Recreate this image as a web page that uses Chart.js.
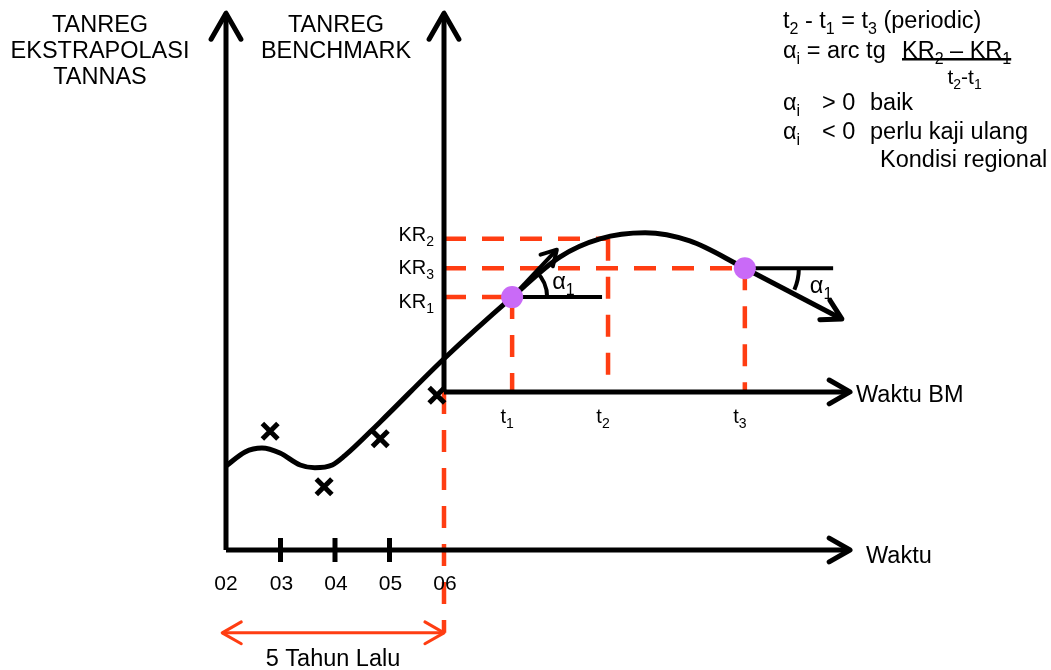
<!DOCTYPE html>
<html>
<head>
<meta charset="utf-8">
<script src="https://cdn.jsdelivr.net/npm/chart.js@4.4.0/dist/chart.umd.min.js"></script>
<style>
  html, body { margin: 0; padding: 0; background: #fff; }
  #wrap { width: 1051px; height: 670px; }
</style>
</head>
<body>
<div id="wrap"><canvas id="diagram" width="1051" height="670"></canvas></div>
<script>
// x in years (02 = 2), y in index units; both
const yearLabels = ['02', '03', '04', '05', '06'];
const yearValues = [2, 3, 4, 5, 6];
const tickYears = [3, 4, 5];

const tLabels = ['t_1', 't_2', 't_3'];
const tValues = [7.25, 9.01, 11.52];

const krLabels = ['KR_1', 'KR_2', 'KR_3'];
const krValues = [4.64, 5.71, 5.17];

// benchmark axes start where year 06 sits
const bmOrigin = [6, 2.9];
const axisTop = 9.85;
const axisEnd = 13.45;
const pastSpanY = -1.52;

// extrapolated TANNAS path then the benchmark path
const curveX = [2.00, 2.35, 2.66, 2.99, 3.36, 3.63, 3.95, 4.18, 4.83, 6.00, 7.25, 8.13, 8.86, 9.69, 10.51, 11.52];
const curveY = [1.54, 1.80, 1.87, 1.78, 1.56, 1.51, 1.56, 1.73, 2.35, 3.51, 4.64, 5.38, 5.71, 5.82, 5.67, 5.17];
const trendEnd = [13.30, 4.24];

// yearly observations (x marks)
const obsX = [2.81, 3.80, 4.83, 5.87];
const obsY = [2.18, 1.16, 2.04, 2.84];

// tangent at t1 and the flat reference lines for alpha
const tangentEnd = [8.07, 5.51];
const flatEnd1 = 8.90;
const flatEnd3 = 13.14;

const FONT = '"Liberation Sans", Arial, Helvetica, sans-serif';
const RED = '#ff3d12';
const PURPLE = '#c96af7';

const pt = (x, y) => ({ x, y });
const seg = (a, b) => [pt(a[0], a[1]), pt(b[0], b[1])];

function blackLine(data, width, extra) {
    return Object.assign({ data, showLine: true, borderColor: '#000', borderWidth: width, pointRadius: 0, clip: false, order: 5, borderCapStyle: 'butt' }, extra || {});
}
function redDash(data, extra) {
    return Object.assign({ data, showLine: true, borderColor: RED, borderWidth: 4.5, borderDash: [22, 16], pointRadius: 0, clip: false, order: 8 }, extra || {});
}

const datasets = [
    { key: 'dots', data: [pt(tValues[0], krValues[0]), pt(tValues[2], krValues[2])], showLine: false, pointRadius: 11, backgroundColor: PURPLE, borderWidth: 0, order: 0, clip: false },
    { data: obsX.map((x, i) => pt(x, obsY[i])), showLine: false, pointStyle: 'crossRot', pointRadius: 11, borderColor: '#000', borderWidth: 5, order: 1, clip: false },
    blackLine(curveX.map((x, i) => pt(x, curveY[i])), 5, { cubicInterpolationMode: 'monotone', order: 2 }),
    blackLine(seg([tValues[2], krValues[2]], trendEnd), 5, { key: 'trend', arrow: { end: true, size: 22 }, order: 2 }),
    blackLine(seg([tValues[0], krValues[0]], tangentEnd), 4, { key: 'tangent', arrow: { end: true, size: 17 }, order: 3 }),
    blackLine(seg([tValues[0], krValues[0]], [flatEnd1, krValues[0]]), 4),
    blackLine(seg([tValues[2], krValues[2]], [flatEnd3, krValues[2]]), 4),
    // axes
    blackLine(seg([2, 0], [2, axisTop]), 5, { arrow: { end: true, size: 30 } }),
    blackLine(seg([2, 0], [axisEnd, 0]), 5, { arrow: { end: true, size: 24 } }),
    blackLine(seg(bmOrigin, [bmOrigin[0], axisTop]), 5, { arrow: { end: true, size: 30 } }),
    blackLine(seg(bmOrigin, [axisEnd, bmOrigin[1]]), 5, { arrow: { end: true, size: 24 } }),
    { data: tickYears.map(y => pt(y, 0)), showLine: false, pointStyle: 'line', rotation: 90, pointRadius: 12, borderColor: '#000', borderWidth: 5, order: 5, clip: false },
    // red guides
    redDash(seg([bmOrigin[0], krValues[0]], [tValues[0], krValues[0]])),
    redDash(seg([bmOrigin[0], krValues[1]], [tValues[1], krValues[1]])),
    redDash(seg([bmOrigin[0], krValues[2]], [tValues[2], krValues[2]])),
    redDash(seg([tValues[0], krValues[0]], [tValues[0], bmOrigin[1]])),
    redDash(seg([tValues[1], krValues[1]], [tValues[1], bmOrigin[1]])),
    redDash(seg([tValues[2], krValues[2]], [tValues[2], bmOrigin[1]])),
    redDash(seg(bmOrigin, [bmOrigin[0], pastSpanY])),
    { data: seg([1.93, pastSpanY], [6, pastSpanY]), showLine: true, borderColor: RED, borderWidth: 3, pointRadius: 0, clip: false, order: 8, arrow: { start: true, end: true, size: 22 } }
];

// text with '_x' meaning subscript x
function drawRich(ctx, str, x, y, size, align) {
    const parts = [];
    for (let i = 0; i < str.length; i++) {
        if (str[i] === '_') { parts.push([str[i + 1], true]); i++; }
        else if (parts.length && !parts[parts.length - 1][1]) parts[parts.length - 1][0] += str[i];
        else parts.push([str[i], false]);
    }
    const sub = Math.round(size * 0.68);
    let w = 0;
    parts.forEach(([t, s]) => { ctx.font = `${s ? sub : size}px ${FONT}`; w += ctx.measureText(t).width; });
    let cx = align === 'center' ? x - w / 2 : align === 'right' ? x - w : x;
    ctx.textAlign = 'left';
    ctx.textBaseline = 'alphabetic';
    parts.forEach(([t, s]) => {
        ctx.font = `${s ? sub : size}px ${FONT}`;
        ctx.fillText(t, cx, s ? y + size * 0.24 : y);
        cx += ctx.measureText(t).width;
    });
    return w;
}

const decorPlugin = {
    id: 'decor',
    afterDatasetsDraw(chart) {
        const ctx = chart.ctx;
        const metaOf = key => chart.getDatasetMeta(chart.data.datasets.findIndex(d => d.key === key)).data;
        ctx.save();
        ctx.lineCap = 'round';
        ctx.lineJoin = 'round';
        ctx.setLineDash([]);
        chart.data.datasets.forEach((ds, i) => {
            if (!ds.arrow) return;
            const pts = chart.getDatasetMeta(i).data;
            const head = (a, b) => {
                const ang = Math.atan2(b.y - a.y, b.x - a.x), L = ds.arrow.size, s = 0.52;
                ctx.beginPath();
                ctx.moveTo(b.x - L * Math.cos(ang - s), b.y - L * Math.sin(ang - s));
                ctx.lineTo(b.x, b.y);
                ctx.lineTo(b.x - L * Math.cos(ang + s), b.y - L * Math.sin(ang + s));
                ctx.stroke();
            };
            ctx.strokeStyle = ds.borderColor;
            ctx.lineWidth = ds.borderWidth;
            if (ds.arrow.end) head(pts[pts.length - 2], pts[pts.length - 1]);
            if (ds.arrow.start) head(pts[1], pts[0]);
        });
        // alpha angle arcs
        const dots = metaOf('dots'), tan = metaOf('tangent'), tr = metaOf('trend');
        ctx.strokeStyle = '#000';
        ctx.lineWidth = 4;
        ctx.lineCap = 'butt';
        const a1 = Math.atan2(tan[1].y - tan[0].y, tan[1].x - tan[0].x);
        ctx.beginPath(); ctx.arc(dots[0].x, dots[0].y, 35, a1, 0); ctx.stroke();
        const a3 = Math.atan2(tr[1].y - tr[0].y, tr[1].x - tr[0].x);
        ctx.beginPath(); ctx.arc(dots[1].x, dots[1].y, 54, 0, a3 * 0.85); ctx.stroke();
        ctx.restore();
    },
    afterDraw(chart) {
        const ctx = chart.ctx, sx = chart.scales.x, sy = chart.scales.y;
        const X = v => sx.getPixelForValue(v), Y = v => sy.getPixelForValue(v);
        ctx.save();
        ctx.fillStyle = '#000';
        const x0 = X(2), xb = X(bmOrigin[0]), y0 = Y(0), yb = Y(bmOrigin[1]);
        const big = 23.5;

        // axis titles
        ['TANREG', 'EKSTRAPOLASI', 'TANNAS'].forEach((t, i) => drawRich(ctx, t, x0 - 126, 32 + i * 26, big, 'center'));
        ['TANREG', 'BENCHMARK'].forEach((t, i) => drawRich(ctx, t, xb - 108, 32 + i * 26, big, 'center'));
        drawRich(ctx, 'Waktu', X(axisEnd) + 16, y0 + 13, big, 'left');
        drawRich(ctx, 'Waktu BM', X(axisEnd) + 6, yb + 10, big, 'left');

        // tick labels
        yearLabels.forEach((l, i) => drawRich(ctx, l, X(yearValues[i]) + (i ? 1 : 0), y0 + 40, 21, 'center'));
        tLabels.forEach((l, i) => drawRich(ctx, l, X(tValues[i]) - 5, yb + 31, 20, 'center'));
        const krNudge = [11, 2, 6];
        krLabels.forEach((l, i) => drawRich(ctx, l, xb - 10, Y(krValues[i]) + krNudge[i], 20, 'right'));

        // angle labels
        const dots = chart.getDatasetMeta(0).data;
        drawRich(ctx, 'α_1', dots[0].x + 40, dots[0].y - 8, big, 'left');
        drawRich(ctx, 'α_1', dots[1].x + 65, dots[1].y + 25, big, 'left');

        drawRich(ctx, '5 Tahun Lalu', (x0 + xb) / 2 - 2, Y(pastSpanY) + 33, big, 'center');

        // formula block, top right
        const fx = chart.chartArea.right - 268;
        drawRich(ctx, 't_2 - t_1 = t_3 (periodic)', fx, 28, big, 'left');
        drawRich(ctx, 'α_i = arc tg', fx, 58, big, 'left');
        const w = drawRich(ctx, 'KR_2 – KR_1', fx + 119, 58, big, 'left');
        ctx.fillRect(fx + 119, 58, w, 2.5);
        drawRich(ctx, 't_2-t_1', fx + 119 + w / 2 + 8, 84, 21, 'center');
        drawRich(ctx, 'α_i', fx, 110, big, 'left');
        drawRich(ctx, '> 0', fx + 39, 110, big, 'left');
        drawRich(ctx, 'baik', fx + 87, 110, big, 'left');
        drawRich(ctx, 'α_i', fx, 139, big, 'left');
        drawRich(ctx, '< 0', fx + 39, 139, big, 'left');
        drawRich(ctx, 'perlu kaji ulang', fx + 87, 139, big, 'left');
        drawRich(ctx, 'Kondisi regional', fx + 97, 167, big, 'left');
        ctx.restore();
    }
};

// 54.5 px per unit on both axes, x=02 at px 226, y=0 at px 550
const PX = 54.5;
new Chart(document.getElementById('diagram'), {
    type: 'scatter',
    data: { datasets },
    options: {
        responsive: false,
        animation: false,
        events: [],
        layout: { padding: 0, autoPadding: false },
        plugins: { legend: { display: false }, tooltip: { enabled: false } },
        scales: {
            x: { type: 'linear', display: false, min: 2 - 226 / PX, max: 2 + (1051 - 226) / PX },
            y: { type: 'linear', display: false, min: -(670 - 550) / PX, max: 550 / PX }
        }
    },
    plugins: [decorPlugin]
});
</script>
</body>
</html>
